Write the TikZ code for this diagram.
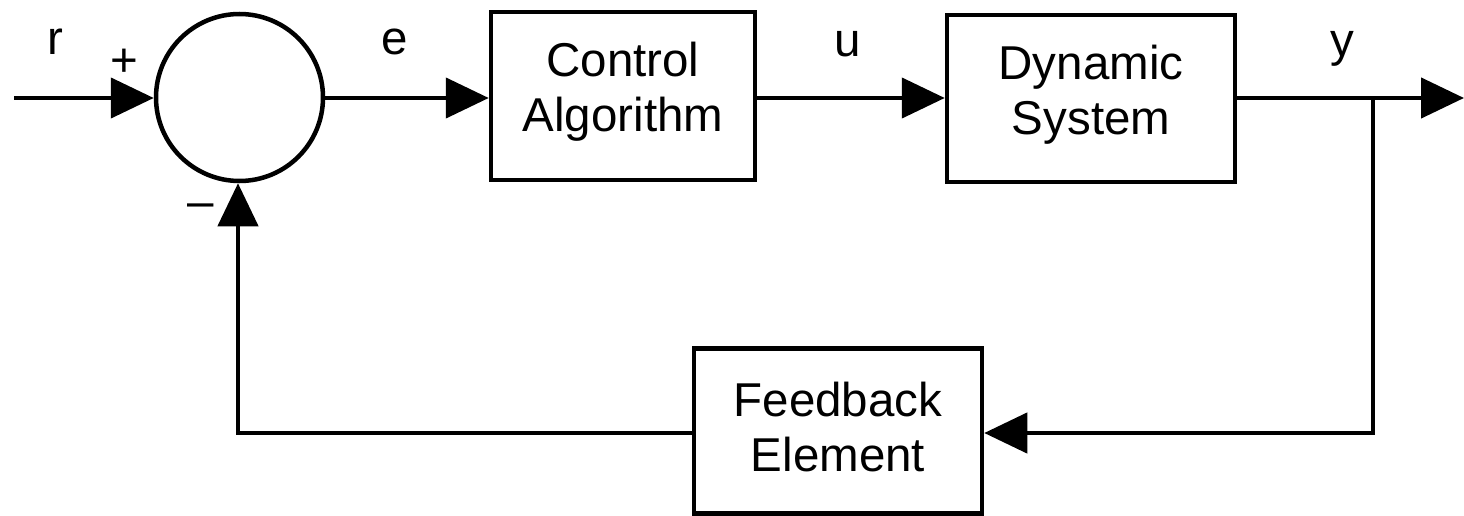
\documentclass[tikz,border=0pt]{standalone}
\usepackage{fontspec}
\setmainfont{Liberation Sans}
\usetikzlibrary{arrows.meta}
\begin{document}
\begin{tikzpicture}[x=1pt,y=-1pt,
  wire/.style={line width=4.5pt},
  sig/.style={wire,-{Triangle[length=43pt,width=40pt]}},
  blk/.style={draw,line width=4.5pt,rectangle,inner sep=0pt},
  sumnode/.style={draw,line width=4.5pt,circle,inner sep=0pt,minimum size=167pt},
  txt/.style={font=\fontsize{47.5}{55}\selectfont,align=center,inner sep=0pt},
]
\useasboundingbox (0,0) rectangle (1464,516);

% blocks
\node[sumnode] (sum) at (239.5,97.5) {};
\node[blk,minimum width=264pt,minimum height=168pt] (ctrl) at (623,96) {};
\node[blk,minimum width=288pt,minimum height=167pt] (dyn) at (1091,98.5) {};
\node[blk,minimum width=288pt,minimum height=165pt] (fb) at (838,431) {};

% block texts
\node[txt,anchor=north] (ctrltxt) at (623,42) {Control\\Algorithm};
\node[txt,anchor=north] (dyntxt) at (1091,45) {Dynamic\\System};
\node[txt,anchor=north] (fbtxt) at (838,382) {Feedback\\Element};

% signal labels
\node[txt,anchor=base] (lr) at (55,55) {r};
\node[txt,anchor=base] (le) at (395,55) {e};
\node[txt,anchor=base] (lu) at (848,57) {u};
\node[txt,anchor=base] (ly) at (1342,57) {y};
\node[txt,anchor=base] (lplus) at (124,77) {+};
\node[txt,anchor=base] (lminus) at (200.5,217) {–};

% wiring
\coordinate (ax) at (0,98);
\coordinate (rin) at (14,98);
\coordinate (out) at (1464,98);
\coordinate (br) at (1373,98);
\coordinate (brd) at (1373,433);
\coordinate (fbl) at (238,433);

\draw[sig] (rin) -- (rin -| sum.west);
\draw[sig] (sum.east |- ax) -- (ctrl.west |- ax);
\draw[sig] (ctrl.east |- ax) -- (dyn.west |- ax);
\draw[sig] (dyn.east |- ax) -- (out);
\draw[sig] (br) -- (brd) -- (brd -| fb.east);
\draw[sig] (fb.west |- fbl) -- (fbl) -- (fbl |- sum.south);
\end{tikzpicture}
\end{document}
